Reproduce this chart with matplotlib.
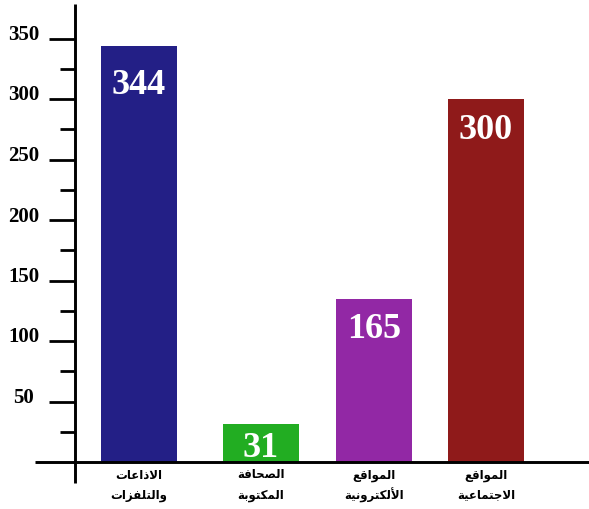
import matplotlib.pyplot as plt

categories = [
    ["الاذاعات", "والتلفزات"],
    ["الصحافة", "المكتوبة"],
    ["المواقع", "الألكترونية"],
    ["المواقع", "الاجتماعية"],
]
# bar heights as drawn in the picture, and the numbers printed on them
heights = [344, 31, 135, 300]
value_labels = ["344", "31", "165", "300"]
colors = ["#231f86", "#22ad22", "#9228a5", "#8f1a1a"]
major_ticks = [50, 100, 150, 200, 250, 300, 350]
minor_ticks = [25, 75, 125, 175, 225, 275, 325]

# --- tiny arabic shaper (matplotlib has no complex text layout) ---
FORMS = {
    "ا": ("\uFE8D", "\uFE8E", None, None),
    "أ": ("\uFE83", "\uFE84", None, None),
    "ب": ("\uFE8F", "\uFE90", "\uFE91", "\uFE92"),
    "ة": ("\uFE93", "\uFE94", None, None),
    "ت": ("\uFE95", "\uFE96", "\uFE97", "\uFE98"),
    "ج": ("\uFE9D", "\uFE9E", "\uFE9F", "\uFEA0"),
    "ح": ("\uFEA1", "\uFEA2", "\uFEA3", "\uFEA4"),
    "ذ": ("\uFEAB", "\uFEAC", None, None),
    "ر": ("\uFEAD", "\uFEAE", None, None),
    "ز": ("\uFEAF", "\uFEB0", None, None),
    "ص": ("\uFEB9", "\uFEBA", "\uFEBB", "\uFEBC"),
    "ع": ("\uFEC9", "\uFECA", "\uFECB", "\uFECC"),
    "ف": ("\uFED1", "\uFED2", "\uFED3", "\uFED4"),
    "ق": ("\uFED5", "\uFED6", "\uFED7", "\uFED8"),
    "ك": ("\uFED9", "\uFEDA", "\uFEDB", "\uFEDC"),
    "ل": ("\uFEDD", "\uFEDE", "\uFEDF", "\uFEE0"),
    "م": ("\uFEE1", "\uFEE2", "\uFEE3", "\uFEE4"),
    "ن": ("\uFEE5", "\uFEE6", "\uFEE7", "\uFEE8"),
    "و": ("\uFEED", "\uFEEE", None, None),
    "ي": ("\uFEF1", "\uFEF2", "\uFEF3", "\uFEF4"),
}
LAM_ALEF = {"ا": ("\uFEFB", "\uFEFC"), "أ": ("\uFEF7", "\uFEF8")}


def joins_next(ch):
    return ch in FORMS and FORMS[ch][2] is not None


def shape(word):
    out = []
    i = 0
    n = len(word)
    while i < n:
        ch = word[i]
        prev_joins = i > 0 and joins_next(word[i - 1])
        if ch == "ل" and i + 1 < n and word[i + 1] in LAM_ALEF:
            out.append(LAM_ALEF[word[i + 1]][1 if prev_joins else 0])
            i += 2
            continue
        iso, fin, ini, med = FORMS[ch]
        nxt = i + 1 < n and word[i + 1] in FORMS and ini is not None
        if prev_joins and nxt:
            out.append(med)
        elif prev_joins:
            out.append(fin)
        elif nxt:
            out.append(ini)
        else:
            out.append(iso)
        i += 1
    return "".join(reversed(out))


# pixel-like layout
s = 1.21          # pixels per unit
base = 462        # pixel row of zero
xpos = [139, 261, 374, 486]
bar_w = 76
label_gap = [23, 8, 14, 15]

fig = plt.figure(figsize=(5.89, 5.09), dpi=100)
ax = fig.add_axes([0, 0, 1, 1])
ax.set_xlim(0, 589)
ax.set_ylim(-(509 - base) / s, base / s)
ax.axis("off")

ax.bar(xpos, heights, width=bar_w, color=colors, zorder=2)

for x, h, t, g in zip(xpos, heights, value_labels, label_gap):
    ax.text(x, h - g / s, t, ha="center", va="top", color="white",
            fontsize=26, fontweight="bold", family="Liberation Serif", zorder=3)

# axes lines
ax.plot([75, 75], [-(483 - base) / s, (base - 4) / s], color="black", lw=2.1,
        solid_capstyle="butt", zorder=4)
ax.plot([35, 589], [0, 0], color="black", lw=2.1, solid_capstyle="butt", zorder=4)
ax.hlines(major_ticks, 49, 75, color="black", lw=2, zorder=4)
ax.hlines(minor_ticks, 60, 75, color="black", lw=2, zorder=4)

for v in major_ticks:
    ax.text(24, v + 3.5 / s, str(v), ha="center", va="center", fontsize=15,
            fontweight="bold", family="Liberation Serif")

for x, (l1, l2) in zip(xpos, categories):
    ax.text(x, -(475 - base) / s, shape(l1), ha="center", va="center",
            fontsize=8.5, fontweight="bold", family="DejaVu Sans")
    ax.text(x, -(495 - base) / s, shape(l2), ha="center", va="center",
            fontsize=8.5, fontweight="bold", family="DejaVu Sans")

fig.savefig("out.png", dpi=100)
